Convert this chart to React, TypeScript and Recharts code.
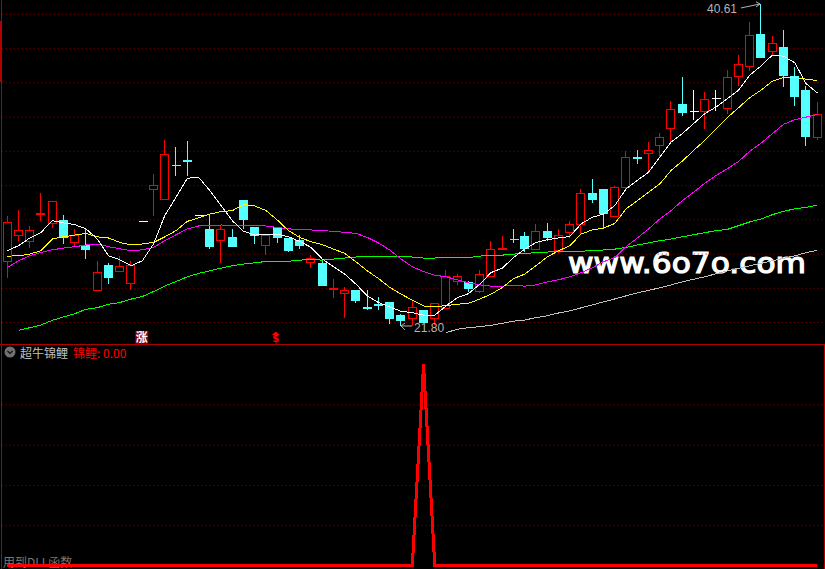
import { ComposedChart, Bar, Line, XAxis, YAxis, CartesianGrid, ReferenceDot } from 'recharts';

const opens = [25.59, 27.09, 26.76, 28.33, 27.76, 27.99, 26.70, 26.53, 23.89, 25.36, 24.98, 24.30, 27.93, 29.75, 29.20, 31.17, 31.45, 28.23, 27.43, 26.82, 26.94, 29.11, 27.58, 26.51,
  27.58, 26.92, 26.78, 25.51, 25.43, 23.93, 23.69, 23.85, 22.87, 23.05, 23.15, 22.39, 22.25, 22.68, 22.25, 22.84, 24.40, 24.36, 23.81, 24.69, 26.29, 26.88, 27.02, 26.25,
  27.31, 26.19, 27.27, 27.70, 29.53, 29.77, 28.20, 29.90, 31.64, 31.86, 32.33, 33.32, 34.75, 34.34, 34.32, 35.06, 34.53, 36.37, 36.96, 38.85, 37.81, 38.09, 36.35, 35.55, 32.83];
const closes = [27.82, 27.35, 27.35, 28.36, 29.05, 26.94, 27.06, 26.27, 24.95, 24.63, 25.30, 25.36, 27.93, 29.98, 31.80, 31.15, 31.42, 28.23, 26.45, 27.41, 26.45, 28.03, 27.11, 27.11,
  26.97, 26.21, 26.51, 25.77, 24.14, 24.01, 23.85, 23.27, 22.84, 23.02, 22.21, 22.15, 22.90, 21.98, 23.13, 24.69, 24.69, 23.99, 24.83, 26.29, 26.33, 26.85, 26.31, 27.31,
  26.96, 27.11, 27.70, 29.52, 29.18, 28.36, 29.89, 31.62, 31.61, 32.04, 32.80, 34.44, 34.28, 34.34, 35.02, 35.06, 36.31, 37.07, 38.77, 37.46, 38.30, 36.41, 35.18, 32.89, 34.14];
const highs = [28.25, 28.60, 27.66, 29.59, 29.05, 28.34, 27.52, 27.47, 25.61, 25.51, 25.90, 25.65, 27.93, 30.71, 32.70, 32.29, 32.64, 28.23, 28.29, 27.66, 27.47, 29.11, 27.60, 27.13,
  27.60, 26.92, 27.17, 25.96, 25.61, 24.57, 24.09, 23.85, 23.95, 23.50, 23.15, 22.52, 23.31, 22.68, 23.15, 25.08, 24.89, 24.44, 25.12, 26.78, 27.07, 27.48, 27.31, 27.78,
  27.85, 27.47, 27.95, 29.81, 30.43, 29.77, 30.00, 32.05, 32.09, 32.58, 33.13, 34.98, 36.39, 35.63, 35.51, 35.63, 36.78, 37.66, 39.61, 40.61, 38.79, 39.14, 36.97, 35.82, 34.92];
const lows = [24.63, 26.78, 26.39, 27.95, 27.56, 26.59, 26.43, 25.74, 23.89, 24.28, 24.98, 23.95, 27.93, 28.25, 29.20, 30.59, 30.59, 28.23, 26.33, 25.51, 26.45, 27.47, 26.62, 25.96,
  26.68, 26.15, 26.33, 25.22, 24.14, 23.46, 22.29, 23.17, 22.78, 22.74, 21.94, 21.80, 21.80, 21.98, 21.90, 22.82, 24.20, 23.79, 23.75, 24.69, 26.29, 26.66, 26.15, 26.24,
  26.78, 26.08, 26.94, 27.17, 29.02, 27.52, 28.20, 29.71, 31.29, 30.84, 31.66, 32.54, 34.10, 33.87, 33.36, 34.36, 34.24, 35.86, 36.74, 37.46, 37.62, 35.76, 34.69, 32.35, 32.70];

const ma5 = [26.20, 26.49, 26.94, 27.27, 27.95, 27.82, 27.72, 27.47, 26.88, 25.90, 25.67, 25.32, 25.61, 26.59, 28.25, 29.32, 30.43, 30.49, 29.71, 28.83, 27.95, 27.33, 27.11, 27.17,
  27.16, 27.01, 26.74, 26.39, 25.71, 25.26, 24.83, 24.24, 23.56, 23.17, 22.91, 22.66, 22.58, 22.43, 22.43, 22.97, 23.46, 23.69, 24.24, 24.92, 25.18, 25.80, 26.29, 26.68,
  26.84, 26.94, 27.03, 27.76, 28.15, 28.34, 28.83, 29.81, 30.30, 30.78, 31.66, 32.54, 33.03, 33.62, 34.20, 34.59, 35.08, 35.57, 36.45, 36.99, 37.62, 37.56, 37.17, 35.96, 35.41];
const ma10 = [25.88, 25.90, 26.00, 26.20, 26.88, 27.01, 27.11, 27.21, 27.01, 26.94, 26.68, 26.53, 26.59, 26.68, 27.01, 27.37, 27.91, 28.11, 28.34, 28.48, 28.54, 28.89, 28.81, 28.54,
  27.99, 27.37, 26.97, 26.72, 26.55, 26.29, 26.04, 25.55, 25.02, 24.57, 24.05, 23.66, 23.31, 22.97, 22.93, 22.99, 23.07, 23.13, 23.37, 23.66, 24.05, 24.57, 24.83, 25.32,
  25.84, 26.19, 26.49, 27.17, 27.41, 27.52, 27.79, 28.64, 29.12, 29.61, 30.10, 30.88, 31.43, 32.05, 32.64, 33.32, 33.97, 34.55, 35.14, 35.57, 36.10, 36.31, 36.33, 36.21, 36.14];
const ma20 = [25.22, 25.61, 25.90, 26.10, 26.25, 26.35, 26.43, 26.53, 26.59, 26.43, 26.31, 26.20, 26.25, 26.39, 26.78, 27.13, 27.47, 27.64, 27.66, 27.70, 27.68, 27.68, 27.68, 27.64,
  27.56, 27.47, 27.44, 27.41, 27.37, 27.33, 27.27, 27.21, 26.97, 26.65, 26.24, 25.71, 25.26, 24.98, 24.77, 24.67, 24.50, 24.32, 24.20, 24.13, 24.13, 24.16, 24.13, 24.20,
  24.38, 24.50, 24.67, 24.91, 25.20, 25.55, 25.80, 26.43, 26.94, 27.47, 28.05, 28.54, 29.12, 29.61, 30.14, 30.59, 30.98, 31.41, 32.01, 32.48, 33.03, 33.58, 33.85, 34.00, 34.16];
const ma60 = [null, 21.55, 21.70, 21.86, 22.13, 22.33, 22.52, 22.78, 22.87, 23.07, 23.17, 23.37, 23.52, 23.81, 24.14, 24.40, 24.67, 24.87, 25.02, 25.18, 25.32, 25.42, 25.49, 25.57,
  25.58, 25.58, 25.65, 25.67, 25.65, 25.71, 25.77, 25.83, 25.88, 25.88, 25.88, 25.86, 25.83, 25.77, 25.77, 25.80, 25.80, 25.80, 25.88, 25.94, 25.94, 26.00, 26.04, 26.08,
  26.12, 26.15, 26.15, 26.17, 26.20, 26.24, 26.29, 26.39, 26.53, 26.65, 26.78, 26.88, 27.01, 27.13, 27.25, 27.37, 27.44, 27.66, 27.88, 28.05, 28.30, 28.50, 28.64, 28.73, 28.85];
const ma120 = [null, null, null, null, null, null, null, null, null, null, null, null, null, null, null, null, null, null, null, null, null, null, null, null,
  null, null, null, null, null, null, null, null, null, null, null, null, null, null, null, 21.41, 21.61, 21.70, 21.76, 21.84, 21.96, 22.08, 22.15, 22.29,
  22.40, 22.56, 22.68, 22.86, 23.03, 23.21, 23.38, 23.56, 23.73, 23.88, 24.03, 24.20, 24.38, 24.53, 24.67, 24.85, 25.02, 25.17, 25.32, 25.46, 25.61, 25.75, 25.90, 26.08, 26.22];
const signal = [0, 0, 0, 0, 0, 0, 0, 0, 0, 0, 0, 0, 0, 0, 0, 0, 0, 0, 0, 0, 0, 0, 0, 0,
  0, 0, 0, 0, 0, 0, 0, 0, 0, 0, 0, 0, 0, 1, 0, 0, 0, 0, 0, 0, 0, 0, 0, 0,
  0, 0, 0, 0, 0, 0, 0, 0, 0, 0, 0, 0, 0, 0, 0, 0, 0, 0, 0, 0, 0, 0, 0, 0, 0];

const priceTicks = [22, 24, 26, 28, 30, 32, 34, 36, 38, 40];
const signalTicks = [0.2, 0.4, 0.6, 0.8];

const RED = '#ff0000';
const CYAN = '#54ffff';
const GRID = '#8c0000';
const FRAME = '#b00000';
const LEFT = 1.675;
const RIGHT = 2.075;

const rows = opens.map((open, i) => ({
  i,
  open,
  close: closes[i],
  high: highs[i],
  low: lows[i],
  ma5: ma5[i],
  ma10: ma10[i],
  ma20: ma20[i],
  ma60: ma60[i],
  ma120: ma120[i],
  signal: signal[i],
}));

function Candle(props: any) {
  const { x, y, width, height, payload } = props;
  const { open, close, high, low } = payload;
  const color = close > open ? RED : close < open ? CYAN : '#ffffff';
  const cx = Math.floor(x + width / 2) + 0.5;
  const px = high > low ? height / (high - low) : 0;
  const top = Math.floor(y + (high - Math.max(open, close)) * px) + 0.5;
  const bottom = Math.floor(y + (high - Math.min(open, close)) * px) + 0.5;
  const wickTop = Math.floor(y) + 0.5;
  const wickBottom = Math.floor(y + height) + 0.5;
  return (
    <g shapeRendering="crispEdges">
      {high > low && <line x1={cx} x2={cx} y1={wickTop} y2={wickBottom} stroke={color} />}
      {bottom - top < 1
        ? <line x1={cx - 4} x2={cx + 5} y1={top} y2={top} stroke={color} />
        : <rect x={cx - 4} y={top} width={8} height={bottom - top} stroke={color} fill={close > open ? '#000' : color} />}
    </g>
  );
}

function HighLabel(props: any) {
  const { cx, cy } = props;
  return (
    <g>
      <text x={cx - 24} y={cy + 9} textAnchor="end" fontFamily="Liberation Sans" fontSize={12} fill="#b4b4b4">40.61</text>
      <polyline points={`${cx - 20},${cy + 4} ${cx - 1},${cy}`} fill="none" stroke="#b4b4b4" />
      <polyline points={`${cx - 5},${cy - 2} ${cx - 1},${cy} ${cx - 5},${cy + 3}`} fill="none" stroke="#b4b4b4" />
    </g>
  );
}

function LowLabel(props: any) {
  const { cx, cy } = props;
  return (
    <g>
      <polyline points={`${cx + 11},${cy} ${cx},${cy}`} fill="none" stroke="#b4b4b4" />
      <polyline points={`${cx + 4},${cy - 3} ${cx},${cy} ${cx + 4},${cy + 4}`} fill="none" stroke="#b4b4b4" />
      <text x={cx + 13} y={cy + 6} fontFamily="Liberation Sans" fontSize={12} fill="#b4b4b4">21.80</text>
    </g>
  );
}

function RiseMark(props: any) {
  const { cx, cy } = props;
  return (
    <g>
      <rect x={cx - 7} y={cy - 6.5} width={13} height={13} fill="#8a0000" stroke="none" />
      <text x={cx - 0.5} y={cy + 4.5} textAnchor="middle" fontFamily="Noto Sans CJK SC" fontWeight="bold" fontSize={12} fill="#ffffff" stroke="none">涨</text>
    </g>
  );
}

function DollarMark(props: any) {
  const { cx, cy } = props;
  return (
    <g>
      <path d={`M${cx - 5.5},${cy - 2.5} L${cx - 1.5},${cy - 6} L${cx + 2.5},${cy - 2.5} Z`} fill={RED} stroke="none" />
      <text x={cx - 1.5} y={cy + 5} textAnchor="middle" fontFamily="DejaVu Sans" fontWeight="bold" fontSize={10} fill={RED} stroke="none">$</text>
    </g>
  );
}

export default function App() {
  return (
    <div style={{ position: 'absolute', left: 0, top: 0, width: 825, height: 569, background: '#000', overflow: 'hidden' }}>
      <style>{`.recharts-surface path.recharts-curve { shape-rendering: crispEdges; }`}</style>
      <svg width={825} height={569} style={{ position: 'absolute', left: 0, top: 0 }}>
        <text x={568} y={273} textLength={238} lengthAdjust="spacingAndGlyphs" fontFamily="DejaVu Sans" fontSize={28} fill="#fff" stroke="#fff" strokeWidth={1.2}>www.6o7o.com</text>
      </svg>
      <div style={{ position: 'absolute', left: 3, top: 555, fontFamily: 'Noto Sans CJK SC', fontSize: 12, lineHeight: '14px', color: '#787878' }}>用到DLL函数</div>

      <div style={{ position: 'absolute', left: 0, top: 0 }}>
        <ComposedChart width={825} height={345} data={rows} margin={{ top: 0, right: RIGHT, bottom: 0, left: LEFT }}>
          <CartesianGrid vertical={false} horizontalValues={priceTicks} stroke={GRID} strokeDasharray="1 3" />
          <XAxis dataKey="i" hide />
          <YAxis hide domain={[20.69, 40.84]} ticks={priceTicks} allowDataOverflow />
          <Bar dataKey={(d: any) => [d.low, d.high]} barSize={9} shape={Candle} isAnimationActive={false} />
          <Line dataKey="ma120" stroke="#c0c0c0" strokeWidth={1} dot={false} isAnimationActive={false} />
          <Line dataKey="ma60" stroke="#00ff00" strokeWidth={1} dot={false} isAnimationActive={false} />
          <Line dataKey="ma20" stroke="#ff00ff" strokeWidth={1} dot={false} isAnimationActive={false} />
          <Line dataKey="ma10" stroke="#ffff00" strokeWidth={1} dot={false} isAnimationActive={false} />
          <Line dataKey="ma5" stroke="#ffffff" strokeWidth={1} dot={false} isAnimationActive={false} />
          <ReferenceDot x={67} y={40.61} shape={HighLabel} />
          <ReferenceDot x={35} y={21.8} shape={LowLabel} />
          <ReferenceDot x={12} y={21.13} shape={RiseMark} />
          <ReferenceDot x={24} y={21.13} shape={DollarMark} />
        </ComposedChart>
      </div>

      <div style={{ position: 'absolute', left: 0, top: 345 }}>
        <ComposedChart width={825} height={224} data={rows} margin={{ top: 0, right: RIGHT, bottom: 0, left: LEFT }}>
          <CartesianGrid vertical={false} horizontalValues={signalTicks} stroke={GRID} strokeDasharray="1 3" />
          <XAxis dataKey="i" hide scale="band" />
          <YAxis hide domain={[-0.015, 1.097]} ticks={signalTicks} allowDataOverflow />
          <Line dataKey="signal" stroke={RED} strokeWidth={3} dot={false} isAnimationActive={false} />
        </ComposedChart>
      </div>

      {/* pane frame */}
      <div style={{ position: 'absolute', left: 1, top: 0, width: 1, height: 569, background: FRAME }} />
      <div style={{ position: 'absolute', left: 0, top: 21, width: 2, height: 61, background: FRAME }} />
      <div style={{ position: 'absolute', left: 824, top: 345, width: 1, height: 224, background: FRAME }} />
      <div style={{ position: 'absolute', left: 0, top: 344, width: 825, height: 1, background: FRAME }} />

      {/* indicator header */}
      <svg width={16} height={16} style={{ position: 'absolute', left: 2, top: 344 }}>
        <circle cx={8} cy={8} r={5.5} fill="#707070" />
        <polyline points="5.5,7 8,9.5 10.5,7" fill="none" stroke="#111" strokeWidth={1.2} />
      </svg>
      <div style={{ position: 'absolute', left: 20, top: 346, fontFamily: 'Noto Sans CJK SC', fontSize: 12, lineHeight: '14px', color: '#c0c0c0' }}>超牛锦鲤</div>
      <div style={{ position: 'absolute', left: 73, top: 346, fontFamily: 'Noto Sans CJK SC', fontSize: 12, lineHeight: '14px', color: RED }}>锦鲤: 0.00</div>
    </div>
  );
}
